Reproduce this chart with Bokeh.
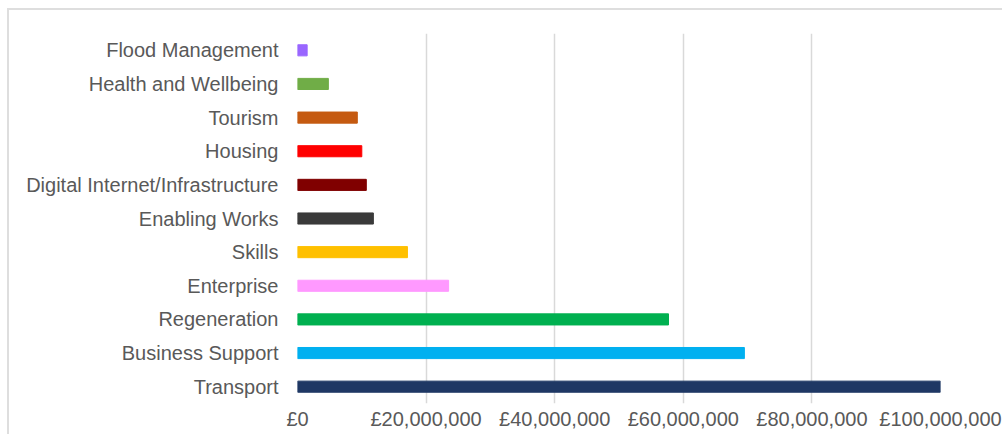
from bokeh.plotting import figure
from bokeh.embed import file_html
from bokeh.resources import INLINE
from bokeh.models import FactorRange, Range1d, FixedTicker

categories = ["Flood Management", "Health and Wellbeing", "Tourism", "Housing",
              "Digital Internet/Infrastructure", "Enabling Works", "Skills",
              "Enterprise", "Regeneration", "Business Support", "Transport"]
values = [1_500_000, 4_800_000, 9_300_000, 10_000_000, 10_700_000, 11_800_000,
          17_100_000, 23_500_000, 57_700_000, 69_500_000, 100_000_000]
colors = ["#9966ff", "#70ad47", "#c55a11", "#ff0000", "#800000", "#3a3a3a",
          "#ffc000", "#ff99ff", "#00b050", "#00b0f0", "#1f3864"]
tick_values = [0, 20_000_000, 40_000_000, 60_000_000, 80_000_000, 100_000_000]
tick_labels = ["£0", "£20,000,000", "£40,000,000", "£60,000,000", "£80,000,000", "£100,000,000"]

FONT = "Liberation Sans"
GREY = "#595959"

p = figure(width=995, height=426, output_backend="svg", toolbar_location=None,
           y_range=FactorRange(factors=list(reversed(categories)), range_padding=0),
           x_range=Range1d(0, 100_000_000),
           min_border_left=288, min_border_right=64, min_border_top=23, min_border_bottom=33,
           styles={"margin-left": "7px", "margin-top": "8px",
                   "border-left": "2px solid #dedede", "border-top": "2px solid #dedede"})

p.hbar(y=categories, left=0, right=values, height=0.33, color=colors)

p.outline_line_color = None
p.background_fill_color = "white"
p.border_fill_color = "white"

p.xaxis.ticker = FixedTicker(ticks=tick_values)
p.xaxis.major_label_overrides = {v: l for v, l in zip(tick_values, tick_labels)}
p.xaxis.axis_line_color = None
p.xaxis.major_tick_line_color = None
p.xaxis.minor_tick_line_color = None
p.xaxis.major_tick_out = 0
p.xaxis.major_tick_in = 0
p.xaxis.major_label_standoff = 4
p.xaxis.major_label_text_font = FONT
p.xaxis.major_label_text_font_size = "20px"
p.xaxis.major_label_text_color = GREY

p.yaxis.axis_line_color = None
p.yaxis.major_tick_line_color = None
p.yaxis.major_tick_out = 0
p.yaxis.major_label_standoff = 19
p.yaxis.major_label_text_font = FONT
p.yaxis.major_label_text_font_size = "20px"
p.yaxis.major_label_text_color = GREY

p.xgrid.grid_line_color = "#d9d9d9"
p.xgrid.grid_line_width = 1.5
p.ygrid.grid_line_color = None

open("out.html", "w").write(file_html(p, INLINE))
